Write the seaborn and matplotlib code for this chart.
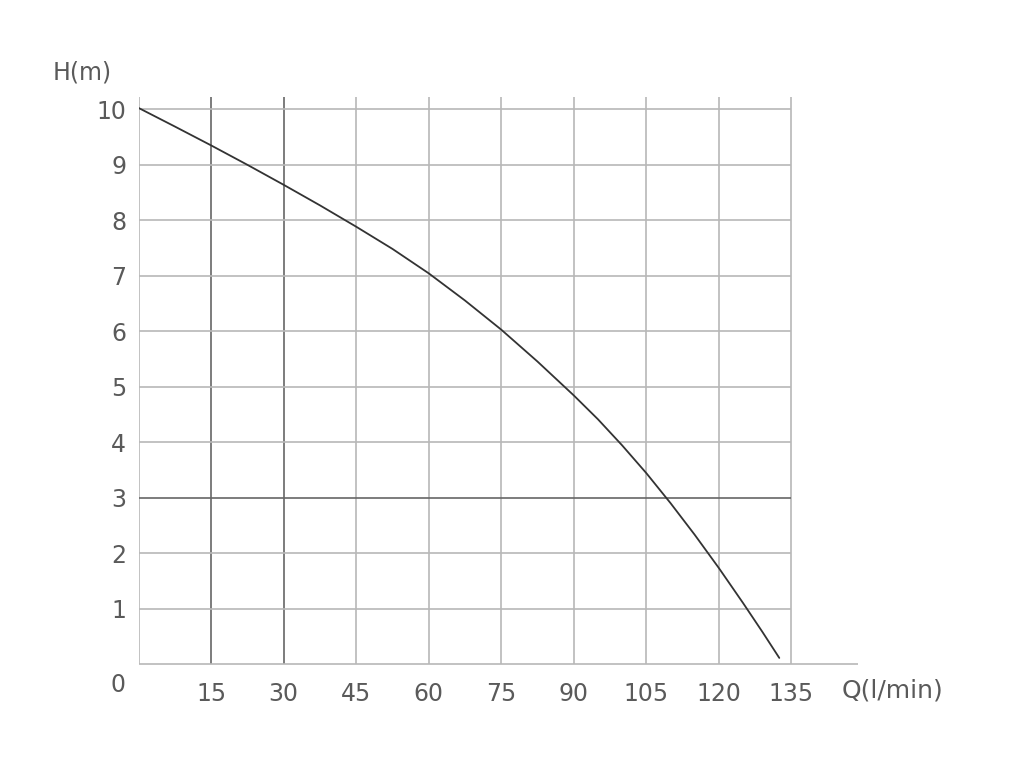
import matplotlib
matplotlib.use("Agg")
import matplotlib.pyplot as plt
import seaborn as sns
import pandas as pd

# Pump curve
flow = [0, 7.5, 15, 22.5, 30, 37.5, 45, 52.5, 60, 67.5, 75, 82.5, 90,
        95, 100, 105, 110, 115, 120, 125, 129, 132.5]
head = [10.02, 9.685, 9.345, 8.995, 8.635, 8.265, 7.88, 7.48, 7.04, 6.55, 6.025, 5.45, 4.84,
        4.41, 3.94, 3.44, 2.90, 2.33, 1.73, 1.10, 0.58, 0.11]

x_ticks = [15, 30, 45, 60, 75, 90, 105, 120, 135]
y_ticks = [1, 2, 3, 4, 5, 6, 7, 8, 9, 10]
dark_x = [15, 30]
dark_y = [3]

df = pd.DataFrame({"Q": flow, "H": head})

sns.set_theme(style="white")
plt.rcParams['font.family'] = ['DejaVu Sans']

fig = plt.figure(figsize=(10.24, 7.77), dpi=100)
ax = fig.add_axes([0.1353, 0.1454, 0.838 - 0.1353, 0.8754 - 0.1454])
ax.set_xlim(0, 148.8)
ax.set_ylim(0, 10.22)
for s in ax.spines.values():
    s.set_visible(False)

light = '#b8b8b8'
dark = '#666666'
for q in [0] + x_ticks:
    ax.vlines(q, 0, 10.22, color=dark if q in dark_x else light, lw=1.2, zorder=1)
for h in y_ticks:
    ax.hlines(h, 0, 135, color=dark if h in dark_y else light, lw=1.2, zorder=1)
ax.hlines(0, 0, 148.8, color=light, lw=1.2, zorder=1, clip_on=False)

sns.lineplot(data=df, x="Q", y="H", sort=False, color='#333333', lw=1.3, ax=ax, zorder=3)

txt = '#5a5a5a'
fs = 17
ax.set_xticks(x_ticks)
ax.set_yticks(y_ticks)
ax.set_xticklabels([str(v) for v in x_ticks])
ax.set_yticklabels([str(v) for v in y_ticks])
ax.tick_params(axis='x', length=0, pad=13, labelsize=fs, labelcolor=txt)
ax.tick_params(axis='y', length=0, pad=9, labelsize=fs, labelcolor=txt)
ax.set_xlabel("")
ax.set_ylabel("")

ax.text(-4.2, -0.38, "0", ha='center', va='center', fontsize=fs, color=txt, clip_on=False)
ax.text(155.9, -0.47, "Q(l/min)", ha='center', va='center', fontsize=fs + 1, color=txt, clip_on=False)
ax.text(-11.7, 10.65, "H(m)", ha='center', va='center', fontsize=fs, color=txt, clip_on=False)

fig.savefig("out.png", dpi=100)
